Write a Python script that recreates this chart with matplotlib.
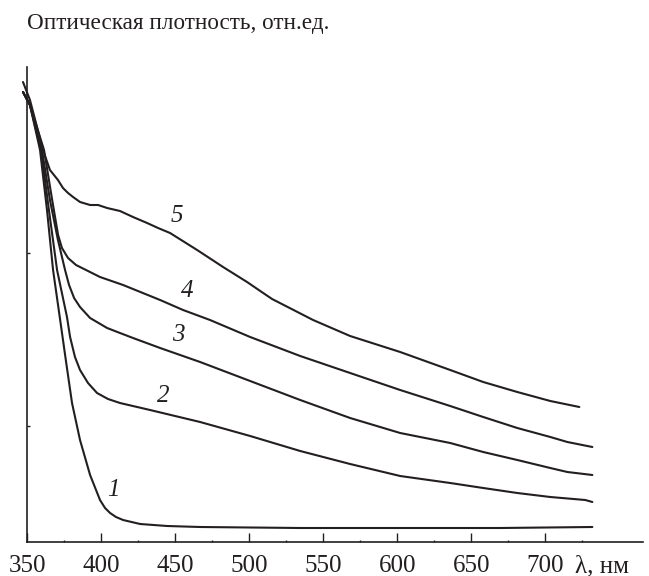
"""Optical density spectra (curves 1-5) recreated as out.png."""

import matplotlib.pyplot as plt
import matplotlib as mpl

# Wavelength (nm) / relative optical density for each curve
WL_1 = [347.3, 352.0, 358.8, 363.5, 367.6, 372.3, 376.4, 380.4, 385.8, 392.6,
        399.3, 402.7, 406.1, 410.1, 414.9, 426.4, 444.6, 466.9, 534.5, 602.0,
        669.6, 731.8]
OD_1 = [0.450, 0.437, 0.392, 0.332, 0.272, 0.223, 0.180, 0.139, 0.102, 0.067,
        0.042, 0.034, 0.029, 0.025, 0.022, 0.018, 0.016, 0.015, 0.014, 0.014,
        0.014, 0.015]

WL_2 = [347.3, 352.0, 359.5, 364.8, 370.3, 377.0, 379.1, 382.4, 385.8, 391.2,
        397.3, 404.7, 412.8, 433.1, 466.9, 500.7, 534.5, 568.2, 602.0, 635.8,
        658.1, 681.1, 703.4, 727.0, 731.8]
OD_2 = [0.450, 0.437, 0.392, 0.332, 0.272, 0.225, 0.205, 0.185, 0.172, 0.159,
        0.149, 0.143, 0.139, 0.132, 0.120, 0.106, 0.091, 0.078, 0.066, 0.059,
        0.054, 0.049, 0.045, 0.042, 0.040]

WL_3 = [347.3, 352.0, 360.1, 365.5, 370.9, 375.7, 378.4, 381.8, 385.8, 392.6,
        404.1, 412.8, 421.6, 439.9, 466.9, 500.7, 534.5, 568.2, 602.0, 635.8,
        658.1, 681.1, 703.4, 714.9, 731.8]
OD_3 = [0.450, 0.437, 0.392, 0.342, 0.302, 0.272, 0.257, 0.244, 0.235, 0.224,
        0.214, 0.209, 0.204, 0.194, 0.180, 0.161, 0.142, 0.124, 0.109, 0.099,
        0.090, 0.082, 0.074, 0.070, 0.067]

WL_4 = [347.3, 352.0, 361.5, 367.0, 371.0, 373.6, 377.7, 383.1, 391.2, 399.3,
        414.9, 439.9, 455.4, 473.6, 500.7, 534.5, 568.2, 602.0, 635.8, 658.1,
        681.1, 703.4, 714.9, 731.8]
OD_4 = [0.450, 0.437, 0.392, 0.342, 0.307, 0.294, 0.284, 0.277, 0.271, 0.265,
        0.257, 0.242, 0.232, 0.222, 0.205, 0.186, 0.169, 0.152, 0.136, 0.125,
        0.114, 0.105, 0.100, 0.095]

WL_5 = [347.3, 352.0, 360.8, 365.5, 370.9, 374.3, 377.7, 381.1, 385.8, 392.6,
        398.0, 404.1, 412.8, 421.6, 431.1, 438.5, 446.6, 464.9, 482.4, 498.6,
        509.5, 515.5, 543.2, 568.2, 602.0, 635.8, 658.1, 681.1, 703.4, 723.0]
OD_5 = [0.460, 0.442, 0.392, 0.372, 0.362, 0.354, 0.349, 0.345, 0.340, 0.337,
        0.337, 0.334, 0.331, 0.325, 0.319, 0.314, 0.309, 0.292, 0.275, 0.260,
        0.249, 0.243, 0.222, 0.206, 0.190, 0.172, 0.160, 0.150, 0.141, 0.135]

CURVES = [(WL_1, OD_1), (WL_2, OD_2), (WL_3, OD_3), (WL_4, OD_4), (WL_5, OD_5)]

# Curve number labels (wavelength, density)
LABELS = ["1", "2", "3", "4", "5"]
LABEL_WL = [408.1, 441.9, 452.0, 458.1, 451.4]
LABEL_OD = [0.052, 0.146, 0.207, 0.251, 0.326]

XTICKS = [350, 400, 450, 500, 550, 600, 650, 700]
XTICKS_MINOR = [375, 425, 475, 525, 575, 625, 675, 725]
YTICKS = [0.116, 0.289]

LINE_COLOR = "#231f20"


def main() -> None:
    mpl.rcParams.update(
        {
            "font.family": "serif",
            "font.serif": ["Liberation Serif", "DejaVu Serif"],
            "font.size": 18,
            "text.color": LINE_COLOR,
            "axes.edgecolor": LINE_COLOR,
            "xtick.color": LINE_COLOR,
            "ytick.color": LINE_COLOR,
        }
    )

    fig = plt.figure(figsize=(6.49, 5.76), dpi=100)
    ax = fig.add_axes([27 / 649, 34 / 576, 616 / 649, 475 / 576])

    for wl, od in CURVES:
        ax.plot(wl, od, color=LINE_COLOR, linewidth=1.5, clip_on=False,
                solid_joinstyle="round", solid_capstyle="round")

    for text, x, y in zip(LABELS, LABEL_WL, LABEL_OD):
        ax.text(x, y, text, fontsize=18, style="italic", ha="center",
                va="center")

    ax.set_xlim(350, 766)
    ax.set_ylim(0, 0.475)
    ax.set_xticks(XTICKS)
    ax.set_xticks(XTICKS_MINOR, minor=True)
    ax.set_yticks(YTICKS)
    ax.set_yticklabels([])
    ax.tick_params(axis="x", which="major", direction="in", length=6.5,
                   width=1.0, pad=9, labelsize=18)
    ax.tick_params(axis="x", which="minor", direction="in", length=1.5,
                   width=1.0)
    ax.tick_params(axis="y", direction="in", length=2.5, width=1.0)

    ax.spines["top"].set_visible(False)
    ax.spines["right"].set_visible(False)
    for side in ("left", "bottom"):
        ax.spines[side].set_linewidth(1.2)

    fig.text(27 / 649, 1 - 23 / 576, "Оптическая плотность, отн.ед.",
             fontsize=16.7, ha="left", va="center")
    fig.text(575 / 649, 1 - 566 / 576, "λ, нм", fontsize=18, ha="left",
             va="center")

    fig.savefig("out.png", dpi=100)
    plt.close(fig)


if __name__ == "__main__":
    main()
